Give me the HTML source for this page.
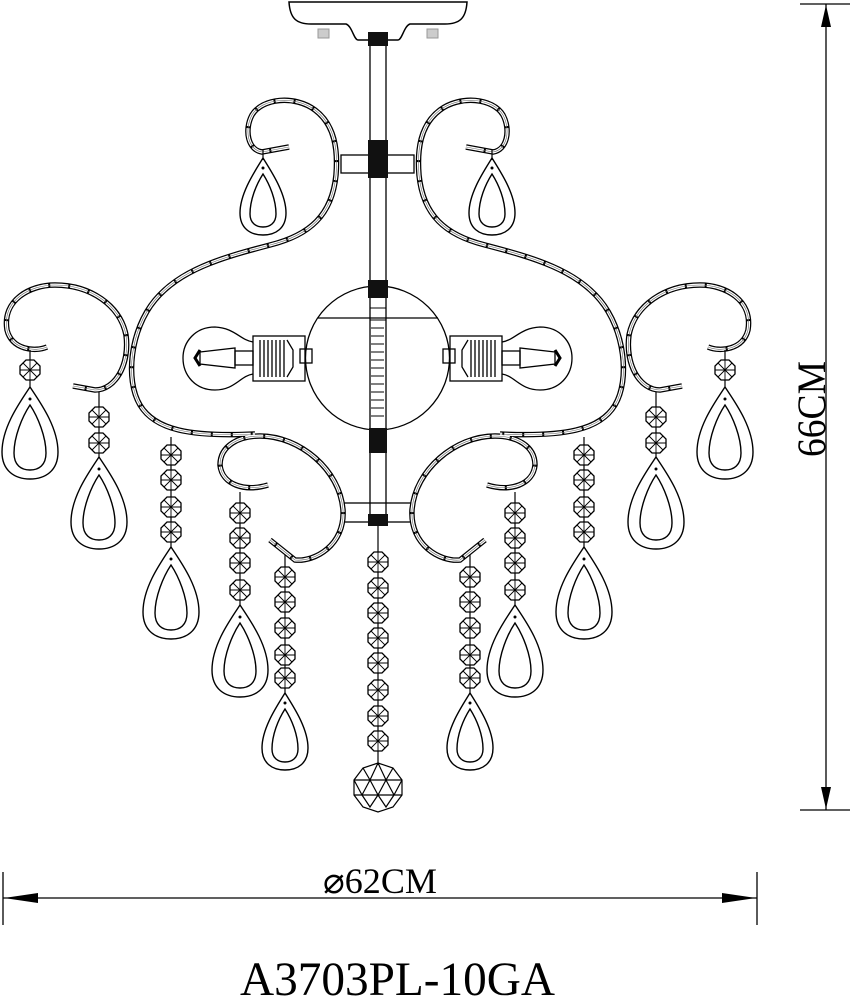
<!DOCTYPE html>
<html><head><meta charset="utf-8"><style>
html,body{margin:0;padding:0;background:#fff;}
svg{display:block;}
</style></head><body>
<svg width="853" height="1000" viewBox="0 0 853 1000" xmlns="http://www.w3.org/2000/svg">
<defs>
<g id="bead"><polygon points="-4,-10 4,-10 10,-4 10,4 4,10 -4,10 -10,4 -10,-4" fill="#fff" stroke="#000" stroke-width="1.3"/><path d="M-10 0H10M0 -10V10M-7 -7L7 7M7 -7L-7 7" stroke="#000" stroke-width="0.9"/></g>
<g id="dropL"><path d="M0 0C10 15 28 40 28 65C28 84 15 92 0 92C-15 92-28 84-28 65C-28 40-10 15 0 0Z" fill="none" stroke="#000" stroke-width="1.4"/><path d="M0 18C8 30 16 50 16 66C16 78 9 83 0 83C-9 83-16 78-16 66C-16 50-8 30 0 18Z" fill="none" stroke="#000" stroke-width="1.4"/><circle cx="0" cy="12" r="1.5"/></g>
<g id="dropS"><path d="M0 0C8 13 23 35 23 55C23 70 13 77 0 77C-13 77-23 70-23 55C-23 35-8 13 0 0Z" fill="none" stroke="#000" stroke-width="1.4"/><path d="M0 16C7 27 13 42 13 56C13 65 7 69 0 69C-7 69-13 65-13 56C-13 42-7 27 0 16Z" fill="none" stroke="#000" stroke-width="1.4"/><circle cx="0" cy="10" r="1.5"/></g>
<g id="arms">
   <path d="M289 147L262 152C248 150 244 130 252 115C262 98 295 95 315 110C335 125 338 150 336 175C332 215 310 235 270 245C220 258 180 270 155 300C130 330 125 380 140 405C155 430 190 437 255 434"/>
   <path d="M47 347C35 352 12 350 7 330C2 300 30 285 55 285C90 285 120 305 126 335C130 365 115 390 95 390L73 386"/>
   <path d="M268 485C245 492 222 485 220 465C220 445 240 436 260 436C300 436 340 470 343 510C345 545 315 562 295 560L270 540"/>
</g>
<g id="side">
 <g fill="none">
  <use href="#arms" stroke="#000" stroke-width="5.5"/>
  <use href="#arms" stroke="#fff" stroke-width="3" stroke-dasharray="18 2"/>
  <use href="#arms" stroke="#666" stroke-width="0.6"/>
 </g>
 <g stroke="#000" stroke-width="1.2">
  <line x1="263" y1="150" x2="263" y2="160"/>
  <line x1="30" y1="350" x2="30" y2="387"/>
  <line x1="99" y1="392" x2="99" y2="457"/>
  <line x1="171" y1="437" x2="171" y2="547"/>
  <line x1="240" y1="492" x2="240" y2="605"/>
  <line x1="285" y1="555" x2="285" y2="693"/>
 </g>
 <use href="#dropS" x="263" y="158"/>
 <use href="#bead" x="30" y="370"/><use href="#dropL" x="30" y="387"/>
 <use href="#bead" x="99" y="417"/><use href="#bead" x="99" y="443"/><use href="#dropL" x="99" y="457"/>
 <use href="#bead" x="171" y="455"/><use href="#bead" x="171" y="480"/><use href="#bead" x="171" y="507"/><use href="#bead" x="171" y="532"/><use href="#dropL" x="171" y="547"/>
 <use href="#bead" x="240" y="513"/><use href="#bead" x="240" y="538"/><use href="#bead" x="240" y="563"/><use href="#bead" x="240" y="590"/><use href="#dropL" x="240" y="605"/>
 <use href="#bead" x="285" y="577"/><use href="#bead" x="285" y="602"/><use href="#bead" x="285" y="628"/><use href="#bead" x="285" y="655"/><use href="#bead" x="285" y="678"/><use href="#dropS" x="285" y="693"/>
 <g fill="none" stroke="#000" stroke-width="1.3">
  <path d="M253 342C240 340 235 328 215 327C195 327 183 342 183 358C183 375 195 390 215 390C235 390 240 376 253 374"/>
  <path d="M200 352L235 348V368L200 364Z"/>
  <path d="M200 350L195 358L200 366" stroke-width="3"/>
  <rect x="235" y="351" width="18" height="14"/>
  <rect x="253" y="336" width="52" height="45"/>
  <path d="M260 340V377M264 340V377M268 340V377M272 340V377M276 340V377M280 340V377M284 340V377"/>
  <path d="M287 340L293 350V367L287 377"/>
  <rect x="300" y="349" width="12" height="14"/>
 </g>
</g>
</defs>

<path d="M289 2H467C466 18 460 24 445 24H410C404 26 402 40 398 40H358C354 40 352 26 346 24H311C296 24 290 18 289 2Z" fill="#fff" stroke="#000" stroke-width="1.5"/>
<rect x="318" y="29" width="11" height="9" fill="#ccc" stroke="#999"/>
<rect x="427" y="29" width="11" height="9" fill="#ccc" stroke="#999"/>
<rect x="370" y="38" width="16" height="485" fill="#fff" stroke="#000" stroke-width="1.3"/>
<circle cx="377.5" cy="358" r="72" fill="none" stroke="#000" stroke-width="1.3"/>
<line x1="318" y1="318" x2="438" y2="318" stroke="#000" stroke-width="1.3"/>
<g stroke="#000" stroke-width="1">
<path d="M371 320H384M371 328H384M371 336H384M371 344H384M371 352H384M371 360H384M371 368H384M371 376H384M371 384H384M371 392H384M371 400H384M371 408H384M371 416H384"/>
</g>
<rect x="341" y="155" width="73" height="18" fill="none" stroke="#000" stroke-width="1.3"/>
<rect x="343" y="503" width="70" height="19" fill="none" stroke="#000" stroke-width="1.3"/>
<rect x="368" y="32" width="20" height="14" fill="#111"/>
<rect x="368" y="140" width="20" height="38" fill="#111"/>
<rect x="368" y="280" width="20" height="18" fill="#111"/>
<rect x="370" y="308" width="16" height="12" fill="none" stroke="#000"/>
<rect x="369" y="428" width="18" height="25" fill="#111"/>
<rect x="368" y="514" width="20" height="12" fill="#111"/>

<use href="#side"/>
<use href="#side" transform="translate(755,0) scale(-1,1)"/>

<line x1="378" y1="526" x2="378" y2="765" stroke="#000" stroke-width="1.2"/>
<use href="#bead" x="378" y="562"/><use href="#bead" x="378" y="588"/><use href="#bead" x="378" y="613"/><use href="#bead" x="378" y="638"/><use href="#bead" x="378" y="663"/><use href="#bead" x="378" y="690"/><use href="#bead" x="378" y="716"/><use href="#bead" x="378" y="741"/>
<g fill="none" stroke="#000" stroke-width="1.2">
<polygon points="378,763 393,768 402,780 402,795 393,807 378,812 363,807 354,795 354,780 363,768"/>
<path d="M354 780H402M354 795H402M363 768L370 780L378 763L386 780L393 768M370 780L378 795L386 780M354 780L362 795L370 780M386 780L394 795L402 780M362 795L370 807L378 795L386 807L394 795"/>
</g>

<g stroke="#000" stroke-width="1.3">
<line x1="800" y1="4" x2="850" y2="4"/>
<line x1="800" y1="810" x2="850" y2="810"/>
<line x1="826" y1="4" x2="826" y2="810"/>
</g>
<polygon points="826,5 821,27 831,27" fill="#000"/>
<polygon points="826,809 821,787 831,787" fill="#000"/>
<text transform="translate(825,457) rotate(-90)" font-family="Liberation Serif, serif" font-size="40" textLength="96" lengthAdjust="spacingAndGlyphs">66CM</text>

<g stroke="#000" stroke-width="1.3">
<line x1="3" y1="872" x2="3" y2="925"/>
<line x1="757" y1="872" x2="757" y2="925"/>
<line x1="3" y1="898" x2="757" y2="898"/>
</g>
<polygon points="4,898 38,893 38,903" fill="#000"/>
<polygon points="756,898 722,893 722,903" fill="#000"/>
<text x="323" y="893" font-family="Liberation Serif, serif" font-size="36" textLength="114" lengthAdjust="spacingAndGlyphs">⌀62CM</text>

<text x="240" y="995" font-family="Liberation Serif, serif" font-size="48" textLength="315" lengthAdjust="spacingAndGlyphs">A3703PL-10GA</text>
</svg>
</body></html>
